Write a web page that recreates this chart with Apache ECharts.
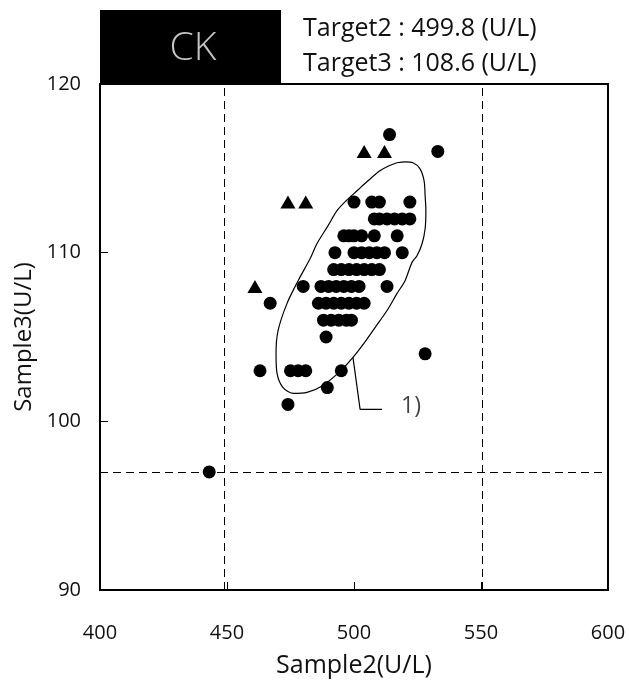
<!DOCTYPE html>
<html>
<head>
<meta charset="utf-8">
<script src="https://cdn.jsdelivr.net/npm/echarts@6/dist/echarts.min.js"></script>
<style>
  html, body { margin: 0; padding: 0; background: #fff; }
  #chart { width: 629px; height: 686px; }
</style>
</head>
<body>
<div id="chart"></div>
<script>
// Sample2 / Sample3 scatter (U/L) with targets and acceptance ellipse
const xTicks = [400, 450, 500, 550, 600];
const yTicks = [90, 100, 110, 120];

// Measured results, grouped by Sample3 value: [Sample3, [Sample2 values]]
const circleRows = [
  [117, [514]],
  [116, [533]],
  [113, [500, 507, 510, 522]],
  [112, [508, 510, 513, 516, 519, 522]],
  [111, [496, 498, 500, 503, 508, 517]],
  [110, [492.5, 500, 503, 506, 509, 512, 519]],
  [109, [492, 495, 498, 501, 504, 507, 510]],
  [108, [480, 487, 490, 493, 496, 499, 502, 513]],
  [107, [467, 486, 489, 492, 495, 498, 501, 504]],
  [106, [488, 491, 494, 497, 499]],
  [105, [489]],
  [104, [528]],
  [103, [463, 475, 478, 481, 495]],
  [102, [489.5]],
  [101, [474]],
  [97, [443]]
];

// Results flagged with triangles
const triangleX = [504, 512, 474, 481, 461];
const triangleY = [116, 116, 113, 113, 108];

// Acceptance region outline (Sample2, Sample3)
const ellipseX = [516.9, 520.1, 523.2, 526.0, 527.6, 528.0, 528.3, 528.0, 526.8, 524.8, 522.8, 520.1, 516.9, 513.0, 508.3, 503.9, 499.6, 494.5, 487.8, 481.5, 476.0, 472.0, 469.7, 469.3, 470.1, 473.6, 478.0, 482.7, 485.4, 489.8, 493.3, 496.9, 501.2, 505.5, 510.2, 513.8, 516.9];
const ellipseY = [115.33, 115.38, 115.33, 114.97, 114.26, 113.37, 112.49, 111.42, 110.53, 109.82, 109.41, 108.34, 107.57, 106.57, 105.56, 104.62, 103.79, 102.96, 102.13, 101.72, 101.66, 102.01, 102.84, 104.02, 105.38, 106.98, 108.34, 109.64, 110.53, 111.60, 112.49, 113.08, 113.67, 114.26, 114.85, 115.15, 115.33];

// Leader line for note "1)"
const leaderX = [499.6, 502.4, 511.0];
const leaderY = [103.79, 100.71, 100.71];
const noteLabel = '1)';
const notePos = [518.5, 100.9];

// Reference limits (dashed)
const limitX = [449, 550.5];
const limitY = [97];

const targetLines = ['Target2 : 499.8 (U/L)', 'Target3 : 108.6 (U/L)'];
const panelTitle = 'CK';

const FONT = '"Open Sans", "DejaVu Sans", sans-serif';

const circlePoints = [];
circleRows.forEach(([y, xs]) => xs.forEach(x => circlePoints.push([x, y])));
const trianglePoints = triangleX.map((x, i) => [x, triangleY[i]]);
const ellipsePoints = ellipseX.map((x, i) => [x, ellipseY[i]]);
const leaderPoints = leaderX.map((x, i) => [x, leaderY[i]]);

const chart = echarts.init(document.getElementById('chart'), null, { renderer: 'canvas' });

const dashed = { color: '#000', width: 1, type: [8, 5] };

chart.setOption({
  animation: false,
  backgroundColor: '#fff',
  textStyle: { fontFamily: FONT },
  grid: {
    left: 100, right: 21, top: 84, bottom: 96,
    show: true, borderColor: '#000', borderWidth: 2, backgroundColor: '#fff'
  },
  graphic: [
    { type: 'rect', shape: { x: 100, y: 10, width: 181, height: 75 }, style: { fill: '#000' }, z: 10 },
    { type: 'text', x: 193, y: 49, style: { text: panelTitle, fill: '#c4c4c4', font: '300 39px ' + FONT, align: 'center', verticalAlign: 'middle' }, z: 11 },
    { type: 'text', x: 303, y: 29, style: { text: targetLines[0], fill: '#111', font: '25px ' + FONT, align: 'left', verticalAlign: 'middle' }, z: 11 },
    { type: 'text', x: 303, y: 64, style: { text: targetLines[1], fill: '#111', font: '25px ' + FONT, align: 'left', verticalAlign: 'middle' }, z: 11 }
  ],
  xAxis: {
    type: 'value', min: xTicks[0], max: xTicks[xTicks.length - 1], interval: 50,
    name: 'Sample2(U/L)', nameLocation: 'middle', nameGap: 63,
    nameTextStyle: { fontSize: 25, color: '#111', fontFamily: FONT },
    axisLine: { show: true, lineStyle: { color: '#000', width: 2 } },
    axisTick: { show: true, inside: true, length: 8, lineStyle: { color: '#000', width: 1 } },
    axisLabel: { margin: 33, fontSize: 20, color: '#111', fontFamily: FONT },
    splitLine: { show: false }
  },
  yAxis: {
    type: 'value', min: yTicks[0], max: yTicks[yTicks.length - 1], interval: 10,
    name: 'Sample3(U/L)', nameLocation: 'middle', nameGap: 64,
    nameTextStyle: { fontSize: 24, color: '#111', fontFamily: FONT },
    axisLine: { show: true, lineStyle: { color: '#000', width: 2 } },
    axisTick: { show: true, inside: true, length: 8, lineStyle: { color: '#000', width: 1 } },
    axisLabel: { margin: 19, fontSize: 20, color: '#111', fontFamily: FONT },
    splitLine: { show: false }
  },
  series: [
    {
      type: 'line', data: ellipsePoints, smooth: 0.3, symbol: 'none',
      lineStyle: { color: '#000', width: 1.2 }, z: 2,
      markLine: {
        silent: true, symbol: 'none', label: { show: false },
        lineStyle: dashed,
        data: limitX.map(v => ({ xAxis: v })).concat(limitY.map(v => ({ yAxis: v })))
      }
    },
    {
      type: 'line', data: leaderPoints, symbol: 'none',
      lineStyle: { color: '#000', width: 1.2 }, z: 2
    },
    {
      type: 'scatter', data: [notePos], symbolSize: 0,
      label: { show: true, formatter: noteLabel, position: 'right', distance: 0, fontSize: 23, color: '#111', fontFamily: FONT }
    },
    {
      type: 'scatter', data: circlePoints, symbol: 'circle', symbolSize: 13,
      itemStyle: { color: '#000', opacity: 1 }, z: 5
    },
    {
      type: 'scatter', data: trianglePoints, symbol: 'triangle', symbolSize: [15, 13],
      itemStyle: { color: '#000', opacity: 1 }, z: 5
    }
  ]
});
</script>
</body>
</html>
